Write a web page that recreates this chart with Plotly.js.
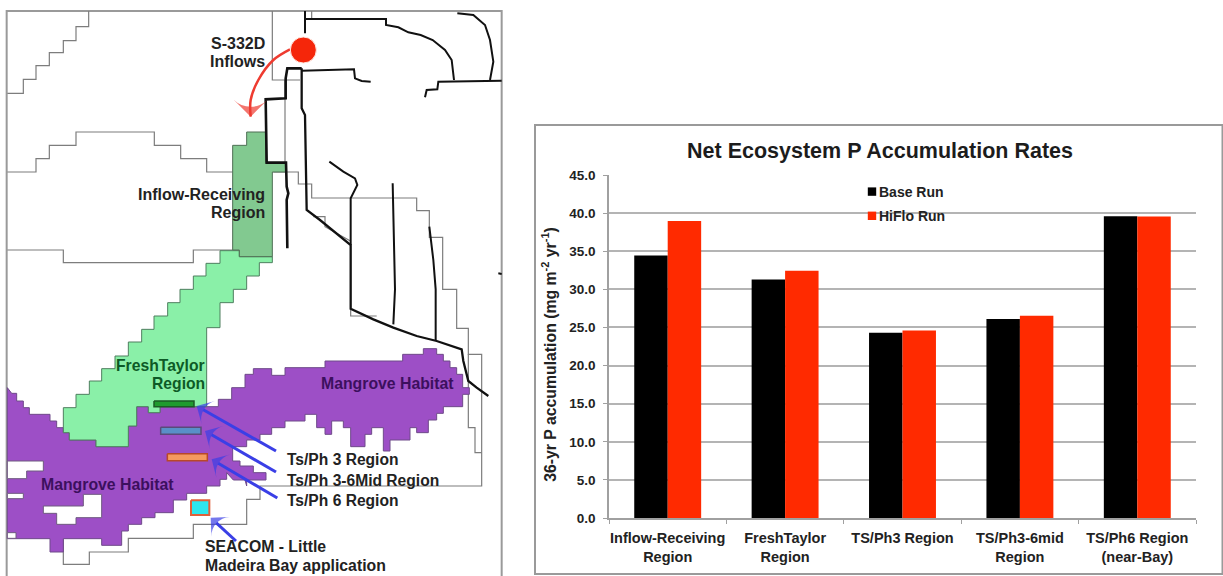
<!DOCTYPE html>
<html>
<head>
<meta charset="utf-8">
<script src="https://cdn.plot.ly/plotly-3.0.1.min.js"></script>
<style>html,body{margin:0;padding:0;background:#fff}#chart{width:1223px;height:576px}</style>
</head>
<body>
<div id="chart"></div>
<script>
// ---------- bar chart data ----------
const categories = ['Inflow-Receiving<br>Region','FreshTaylor<br>Region','TS/Ph3 Region','TS/Ph3-6mid<br>Region','TS/Ph6 Region<br>(near-Bay)'];
const baseRun  = [34.45, 31.3, 24.3, 26.1, 39.6];
const hiFloRun = [38.95, 32.45, 24.6, 26.55, 39.55];

// ---------- map outlines, traced on a 3x grid of the picture ----------
const frame = [[20,1728],[20,33],[1505,33],[1505,1728]];
const gridA = [[266,33],[266,80],[228,80],[228,122],[190,122],[190,158],[148,158],[148,197],[108,197],[108,238],[70,238],[70,280],[22,280]];
const gridB = [[22,516],[108,516],[108,476],[148,476],[148,436],[228,436],[228,396],[463,396],[463,436],[542,436],[542,476],[620,476],[620,516],[698,516]];
const gridC = [[22,750],[190,750],[190,788],[580,788],[580,750],[698,750]];
const gridD = [[817,33],[817,240],[900,240]];
const gridE = [[855,240],[855,490]];
const gridF = [[935,33],[935,60]];
const gridG = [[820,516],[895,516],[895,552],[935,552],[935,594],[1250,594],[1250,632],[1288,632],[1288,712],[1328,712],[1328,868],[1370,868],[1370,985],[1405,985],[1405,1063],[1445,1063],[1445,1458],[780,1458],[780,1498],[740,1498],[740,1573],[580,1573],[580,1615],[385,1615],[385,1656],[268,1656],[268,1693],[190,1693],[190,1618]];
const gridH = [[1405,1063],[1405,1283],[1425,1283],[1425,1358],[1445,1358]];
const gridI = [[940,650],[975,650],[975,680],[1010,700],[1050,722]];
const gridJ = [[1052,930],[1052,948],[1130,948]];

const mangrove = [[22,1163],[35,1180],[50,1180],[50,1203],[70,1203],[70,1223],[88,1223],[88,1243],[150,1243],[150,1263],[170,1263],[170,1283],[190,1283],[190,1298],[208,1298],[208,1320],[288,1320],[288,1340],[385,1340],[385,1278],[410,1278],[410,1220],[445,1220],[445,1238],[480,1238],[480,1220],[655,1220],[655,1198],[695,1198],[695,1163],[735,1163],[735,1123],[760,1123],[760,1106],[815,1106],[815,1126],[855,1126],[855,1103],[975,1103],[975,1083],[1208,1083],[1208,1063],[1270,1063],[1270,1046],[1310,1046],[1310,1063],[1330,1063],[1330,1083],[1350,1083],[1350,1103],[1370,1103],[1370,1123],[1388,1123],[1388,1163],[1408,1163],[1408,1183],[1388,1183],[1388,1220],[1330,1220],[1330,1240],[1310,1240],[1310,1260],[1285,1260],[1285,1298],[1250,1298],[1250,1283],[1230,1283],[1230,1320],[1170,1320],[1170,1353],[1150,1353],[1150,1283],[1115,1283],[1115,1303],[1095,1303],[1095,1340],[1052,1340],[1052,1283],[1030,1283],[1030,1263],[995,1263],[995,1303],[975,1303],[975,1283],[950,1283],[950,1243],[915,1243],[915,1263],[855,1263],[855,1283],[815,1283],[815,1303],[780,1303],[780,1320],[740,1320],[740,1340],[698,1340],[698,1383],[720,1383],[720,1398],[760,1398],[760,1418],[798,1418],[798,1440],[740,1440],[740,1458],[735,1440],[700,1440],[680,1418],[680,1438],[660,1438],[660,1458],[620,1458],[620,1480],[560,1480],[560,1500],[520,1500],[520,1538],[465,1538],[465,1553],[425,1553],[425,1573],[385,1573],[385,1593],[365,1593],[365,1636],[305,1636],[305,1616],[190,1616],[190,1656],[150,1656],[150,1616],[22,1616]];
const holeA = [[22,1383],[130,1383],[130,1413],[80,1413],[80,1436],[22,1436]];
const holeB = [[22,1480],[70,1480],[70,1496],[22,1496]];
const holeC = [[130,1518],[250,1518],[250,1483],[305,1483],[305,1553],[228,1553],[228,1573],[170,1573],[170,1540],[130,1540]];
const holeD = [[22,1598],[48,1598],[48,1615],[22,1615]];
const freshTaylor = [[660,752],[718,752],[718,770],[817,770],[817,788],[778,788],[778,828],[740,828],[740,868],[700,868],[700,908],[660,908],[660,983],[620,983],[620,1220],[480,1220],[480,1238],[445,1238],[445,1220],[410,1220],[410,1278],[385,1278],[385,1340],[288,1340],[288,1320],[208,1320],[208,1298],[190,1298],[190,1223],[228,1223],[228,1183],[268,1183],[268,1143],[305,1143],[305,1106],[345,1106],[345,1068],[385,1068],[385,1026],[425,1026],[425,988],[462,988],[462,948],[503,948],[503,908],[540,908],[540,868],[580,868],[580,828],[618,828],[618,790],[660,790]];
const inflowRegion = [[740,396],[797,396],[797,488],[858,488],[858,516],[817,516],[817,770],[718,770],[718,750],[698,750],[698,436],[740,436]];

const canalA = [[915,33],[915,100]];
const canalB = [[915,57],[1158,57],[1158,75],[1195,82],[1225,97],[1262,105],[1298,120],[1335,150],[1355,180],[1362,240]];
const canalC = [[1275,292],[1280,270],[1312,268],[1315,245],[1505,242]];
const canalD = [[1372,40],[1420,45],[1455,75],[1470,120],[1480,185],[1470,240]];
const canalE = [[905,205],[862,205],[857,235],[857,295],[797,298],[800,488],[858,488],[860,560],[865,580],[860,600],[862,745]];
const canalF = [[905,205],[905,325],[915,345],[920,630],[960,660],[1052,735],[1052,926],[1120,958],[1180,983],[1250,1008],[1310,1023],[1385,1048],[1390,1083],[1405,1143],[1430,1163],[1465,1188]];
const canalG = [[905,212],[1030,210],[1062,208],[1065,235],[1085,243],[1112,245]];
const canalH = [[988,485],[1030,515],[1065,535],[1072,555],[1052,595],[1052,735]];
const canalI = [[1178,550],[1180,680],[1185,868],[1180,973]];
const canalJ = [[1288,680],[1300,780],[1307,868],[1307,1023]];
const canalK = [[1495,820],[1505,822]];

const siteGreen  = [[462,1203],[582,1203],[582,1220],[462,1220]];
const siteBlue   = [[482,1282],[603,1282],[603,1303],[482,1303]];
const siteOrange = [[502,1361],[622,1361],[622,1382],[502,1382]];
const siteCyan   = [[573,1501],[628,1501],[628,1545],[573,1545]];

const inflowPoint = [[910,150]];
const inflowCurve = [[870,148],[820,180],[775,240],[752,300],[752,350]];

// label text, anchor point on the same 3x grid
const mapLabels = [
  ['S-332D',630,130,'left','#222222',16],
  ['Inflows',628,184,'left','#222222',16],
  ['Inflow-Receiving',798,582,'right','#222222',16],
  ['Region',798,636,'right','#222222',16],
  ['FreshTaylor',618,1095,'right','#0d5a26',15.7],
  ['Region',618,1149,'right','#0d5a26',15.7],
  ['Mangrove Habitat',960,1149,'left','#3c0f5e',15.8],
  ['Mangrove Habitat',120,1454,'left','#3c0f5e',15.8],
  ['Ts/Ph 3 Region',858,1378,'left','#222222',15.6],
  ['Ts/Ph 3-6Mid Region',858,1440,'left','#222222',15.6],
  ['Ts/Ph 6 Region',858,1500,'left','#222222',15.6],
  ['SEACOM - Little',612,1640,'left','#222222',15.8],
  ['Madeira Bay application',612,1696,'left','#222222',15.8]
];
const blueArrows = [
  [[828,1353],[590,1218]],
  [[828,1416],[615,1293]],
  [[832,1494],[635,1378]],
  [[708,1623],[632,1553]]
];

// ---------- build ----------
const FONT = 'Liberation Sans, Arial, sans-serif';
const mapTrace = (pts, o) => Object.assign({
  x: pts.map(p=>p[0]), y: pts.map(p=>p[1]), xaxis:'x2', yaxis:'y2',
  type:'scatter', mode:'lines', hoverinfo:'skip', showlegend:false
}, o);
const thin = p => mapTrace(p,{line:{color:'#7d7d7d',width:1.2}});
const thick = (p,w) => mapTrace(p,{line:{color:'#111111',width:w||2}});
const poly = (p,fill,edge,w) => mapTrace(p.concat([p[0]]),{fill:'toself',fillcolor:fill,line:{color:edge,width:w||1}});
const arrow = (p,color,width,size,shape) => mapTrace(p,{mode:'lines+markers',
  line:{color,width,shape:shape||'linear'},
  marker:{color,symbol:'arrow-wide',angleref:'previous',size:p.map((_,i)=>i===p.length-1?size:0),line:{width:0}}});

const traces = [
  {type:'bar',name:'Base Run',legendgroup:'base',x:categories,y:baseRun,marker:{color:'#000000'},hoverinfo:'y'},
  {type:'bar',name:'HiFlo Run',legendgroup:'hiflo',x:categories,y:hiFloRun,marker:{color:'#ff2a00'},hoverinfo:'y'},
  mapTrace(frame,{line:{color:'#9a9a9a',width:2}}),
  ...[gridA,gridB,gridC,gridD,gridE,gridF,gridG,gridH,gridI,gridJ].map(thin),
  poly(mangrove,'#9d4fc6','#6f4a8a'),
  poly(holeA,'#ffffff','#6f5a80'),poly(holeB,'#ffffff','#6f5a80'),poly(holeC,'#ffffff','#6f5a80'),poly(holeD,'#ffffff','#6f5a80'),
  poly(freshTaylor,'#8af0a8','#4f7f5f'),
  poly(inflowRegion,'#82c990','#4f6f55'),
  ...[canalA,canalB,canalC,canalD,canalG,canalH,canalI,canalJ,canalK].map(p=>thick(p)),
  thick(canalE,2.6),thick(canalF,2.3),
  poly(siteGreen,'#1f9a2e','#1b5a25',1.5),
  poly(siteBlue,'#5a8fc8','#5a4a7a',1.5),
  poly(siteOrange,'#f59a5f','#b8482a',1.5),
  poly(siteCyan,'#2de6ee','#e0603a',2),
  arrow(inflowCurve,'#ee3b30',2.5,24,'spline'),
  mapTrace(inflowPoint,{mode:'markers',marker:{color:'#f5260a',size:26,line:{color:'#ffe8e0',width:1}}}),
  ...blueArrows.map(p=>arrow(p,'#3a3fe6',3,19))
];

const annotations = mapLabels.map(l=>({
  xref:'x2',yref:'y2',x:l[1],y:l[2],text:l[0],showarrow:false,xanchor:l[3],yanchor:'middle',align:l[3],
  borderpad:0,font:{family:FONT,size:l[5],weight:700,color:l[4]}
}));

const layout = {
  width:1223,height:576,margin:{l:0,r:0,t:0,b:0,pad:0},
  paper_bgcolor:'#ffffff',plot_bgcolor:'rgba(0,0,0,0)',
  font:{family:FONT,color:'#222222'},
  barmode:'group',bargap:0.43,bargroupgap:0,
  title:{text:'Net Ecosystem P Accumulation Rates',x:880/1223,y:1-150/576,xanchor:'center',yanchor:'middle',xref:'paper',yref:'paper',font:{family:FONT,size:21.5,weight:700,color:'#1c1c1c'}},
  xaxis:{domain:[609/1223,1196/1223],anchor:'y',type:'category',tickson:'boundaries',ticks:'outside',ticklen:4,tickcolor:'#a0a0a0',showline:true,linecolor:'#a0a0a0',linewidth:1.5,showgrid:false,fixedrange:true,
    tickfont:{family:FONT,size:14.5,weight:700,color:'#222222'},tickangle:0,automargin:false,ticklabelstandoff:6},
  yaxis:{domain:[58/576,401/576],anchor:'x',range:[0,45],dtick:5,tick0:0,tickformat:'.1f',ticks:'outside',ticklen:4,tickcolor:'#a0a0a0',showline:true,linecolor:'#a0a0a0',linewidth:1.5,gridcolor:'#b4b4b4',gridwidth:1.5,zeroline:false,fixedrange:true,automargin:false,ticklabelstandoff:5,
    tickfont:{family:FONT,size:13.5,weight:700,color:'#222222'},
    title:{text:'36-yr P accumulation (mg m<sup>-2</sup> yr<sup>-1</sup>)',standoff:9,font:{family:FONT,size:15.8,weight:700,color:'#222222'}}},
  xaxis2:{domain:[0,1],range:[0,3669],anchor:'y2',visible:false,fixedrange:true},
  yaxis2:{domain:[0,1],range:[1728,0],anchor:'x2',visible:false,fixedrange:true},
  legend:{x:839/1223,y:1-176/576,xanchor:'left',yanchor:'top',bgcolor:'rgba(0,0,0,0)',borderwidth:0,itemclick:false,itemdoubleclick:false,tracegroupgap:3,font:{family:FONT,size:14,weight:700,color:'#222222'}},
  shapes:[
    {type:'rect',xref:'paper',yref:'paper',x0:535/1223,x1:1222.5/1223,y0:1-574/576,y1:1-125/576,line:{color:'#9a9a9a',width:2},fillcolor:'rgba(0,0,0,0)',layer:'below'},
    {type:'rect',xref:'paper',yref:'paper',x0:861/1223,x1:950/1223,y0:1-226/576,y1:1-204/576,line:{width:0},fillcolor:'#ffffff',layer:'between'}
  ],
  annotations
};
Plotly.newPlot('chart',traces,layout,{displayModeBar:false,responsive:false}).then(gd=>{
  // tighten the legend swatches toward their labels, as in the reference
  gd.querySelectorAll('.legend .legendpoints').forEach(g=>{
    g.querySelectorAll('path').forEach(p=>p.setAttribute('transform','translate(33,0) scale(0.7)'));
  });
  // the reference's axis title sits slightly below the axis centre
  const yt = gd.querySelector('.g-ytitle');
  if (yt) yt.setAttribute('transform','translate(0,8)');
});
</script>
</body>
</html>
